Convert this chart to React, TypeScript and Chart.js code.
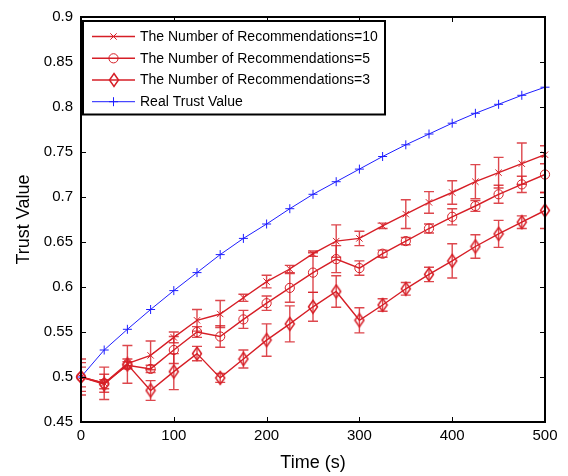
import React, { useEffect, useRef } from 'react';
import { Chart, registerables } from 'chart.js';

Chart.register(...registerables);

// ---------- data ----------
const TIMES = [0, 25, 50, 75, 100, 125, 150, 175, 200, 225, 250, 275, 300, 325, 350, 375, 400, 425, 450, 475, 500];

const REC10 = [0.5, 0.493, 0.515, 0.524, 0.544, 0.563, 0.570, 0.588, 0.606, 0.620, 0.637, 0.651, 0.654, 0.668, 0.681, 0.694, 0.705, 0.717, 0.727, 0.737, 0.747];
const ERR10 = [0.011, 0.018, 0.005, 0.016, 0.006, 0.012, 0.015, 0.004, 0.007, 0.004, 0.003, 0.018, 0.008, 0.003, 0.016, 0.012, 0.013, 0.019, 0.017, 0.023, 0.010];

const REC5 = [0.5, 0.493, 0.513, 0.509, 0.530, 0.550, 0.545, 0.564, 0.582, 0.599, 0.616, 0.631, 0.621, 0.637, 0.651, 0.665, 0.678, 0.690, 0.703, 0.714, 0.725];
const ERR5 = [0.016, 0.010, 0.004, 0.004, 0.015, 0.006, 0.012, 0.010, 0.008, 0.016, 0.022, 0.015, 0.008, 0.004, 0.004, 0.005, 0.009, 0.006, 0.010, 0.009, 0.020];

const REC3 = [0.5, 0.492, 0.514, 0.485, 0.506, 0.526, 0.499, 0.520, 0.541, 0.559, 0.578, 0.595, 0.563, 0.580, 0.598, 0.614, 0.629, 0.645, 0.659, 0.672, 0.685];
const ERR3 = [0.020, 0.005, 0.021, 0.011, 0.020, 0.008, 0.005, 0.010, 0.018, 0.020, 0.016, 0.0175, 0.014, 0.007, 0.007, 0.008, 0.019, 0.013, 0.015, 0.007, 0.020];

const REAL = [0.5, 0.530, 0.553, 0.575, 0.596, 0.616, 0.636, 0.654, 0.670, 0.687, 0.703, 0.717, 0.731, 0.745, 0.758, 0.770, 0.782, 0.793, 0.803, 0.813, 0.822];

const X_TICKS = [0, 100, 200, 300, 400, 500];
const Y_TICKS = [0.45, 0.5, 0.55, 0.6, 0.65, 0.7, 0.75, 0.8, 0.85, 0.9];

const LEGEND_LABELS = [
  'The Number of Recommendations=10',
  'The Number of Recommendations=5',
  'The Number of Recommendations=3',
  'Real Trust Value',
];

const X_TITLE = 'Time (s)';
const Y_TITLE = 'Trust Value';

// ---------- styles ----------
const RED = 'rgb(214,30,38)';
const RED_ERR = 'rgba(214,30,38,0.82)';
const BLUE = 'rgb(30,30,255)';
const FONT = 'Arial, "Liberation Sans", sans-serif';

function makeDiamond(color: string): HTMLCanvasElement {
  const c = document.createElement('canvas');
  c.width = 12;
  c.height = 16;
  const g = c.getContext('2d')!;
  g.strokeStyle = color;
  g.lineWidth = 1.5;
  g.beginPath();
  g.moveTo(6, 1.5);
  g.lineTo(10.5, 8);
  g.lineTo(6, 14.5);
  g.lineTo(1.5, 8);
  g.closePath();
  g.stroke();
  return c;
}

function drawMarker(ctx: CanvasRenderingContext2D, kind: string, x: number, y: number, color: string, diamond: HTMLCanvasElement) {
  ctx.save();
  ctx.strokeStyle = color;
  ctx.lineWidth = 1;
  ctx.beginPath();
  if (kind === 'x') {
    const r = 3.2;
    ctx.moveTo(x - r, y - r); ctx.lineTo(x + r, y + r);
    ctx.moveTo(x - r, y + r); ctx.lineTo(x + r, y - r);
    ctx.stroke();
  } else if (kind === 'o') {
    ctx.arc(x, y, 4.6, 0, Math.PI * 2);
    ctx.stroke();
  } else if (kind === 'd') {
    ctx.drawImage(diamond, Math.round(x - diamond.width / 2), Math.round(y - diamond.height / 2));
  } else {
    const r = 4.5;
    ctx.moveTo(x - r, y); ctx.lineTo(x + r, y);
    ctx.moveTo(x, y - r); ctx.lineTo(x, y + r);
    ctx.stroke();
  }
  ctx.restore();
}

export default function App() {
  const ref = useRef<HTMLCanvasElement | null>(null);

  useEffect(() => {
    const canvas = ref.current;
    if (!canvas) return;
    const diamond = makeDiamond(RED);
    const errors: (number[] | null)[] = [ERR10, ERR5, ERR3, null];
    const kinds = ['x', 'o', 'd', '+'];
    const colors = [RED, RED, RED, BLUE];

    const framePlugin = {
      id: 'framePlugin',
      afterDatasetsDraw(chart: any) {
        const ctx = chart.ctx as CanvasRenderingContext2D;
        const area = chart.chartArea;
        const ys = chart.scales.y;
        ctx.save();
        ctx.beginPath();
        ctx.rect(area.left, area.top, area.right - area.left, area.bottom - area.top);
        ctx.clip();
        ctx.strokeStyle = RED_ERR;
        ctx.lineWidth = 1.4;
        chart.data.datasets.forEach((ds: any, i: number) => {
          const errs = errors[i];
          if (!errs) return;
          const meta = chart.getDatasetMeta(i);
          meta.data.forEach((pt: any, j: number) => {
            const v = ds.data[j].y;
            const e = errs[j];
            const x = pt.x;
            const y1 = ys.getPixelForValue(v + e);
            const y2 = ys.getPixelForValue(v - e);
            const cw = 5;
            ctx.beginPath();
            ctx.moveTo(x, y1); ctx.lineTo(x, y2);
            ctx.moveTo(x - cw, y1); ctx.lineTo(x + cw, y1);
            ctx.moveTo(x - cw, y2); ctx.lineTo(x + cw, y2);
            ctx.stroke();
          });
        });
        ctx.restore();
      },
      afterDraw(chart: any) {
        const ctx = chart.ctx as CanvasRenderingContext2D;
        const area = chart.chartArea;
        const xs = chart.scales.x;
        const ys = chart.scales.y;
        ctx.save();
        ctx.strokeStyle = '#000';
        ctx.lineWidth = 1;
        const tl = 5;
        ctx.beginPath();
        X_TICKS.forEach((v) => {
          const px = Math.round(xs.getPixelForValue(v)) + 0.5;
          ctx.moveTo(px, area.bottom); ctx.lineTo(px, area.bottom - tl);
          ctx.moveTo(px, area.top); ctx.lineTo(px, area.top + tl);
        });
        Y_TICKS.forEach((v) => {
          const py = Math.round(ys.getPixelForValue(v)) + 0.5;
          ctx.moveTo(area.left, py); ctx.lineTo(area.left + tl, py);
          ctx.moveTo(area.right, py); ctx.lineTo(area.right - tl, py);
        });
        ctx.stroke();
        ctx.lineWidth = 2;
        ctx.strokeRect(area.left, area.top, area.right - area.left, area.bottom - area.top);

        // legend
        const lx = 83, ly = 21, lw = 302, lh = 93.5;
        ctx.fillStyle = '#fff';
        ctx.fillRect(lx, ly, lw, lh);
        ctx.lineWidth = 2;
        ctx.strokeStyle = '#000';
        ctx.strokeRect(lx, ly, lw, lh);
        const rows = [36.5, 58.3, 80, 101.7];
        ctx.font = `14px ${FONT}`;
        ctx.textBaseline = 'middle';
        ctx.textAlign = 'left';
        LEGEND_LABELS.forEach((label, i) => {
          const y = rows[i];
          ctx.strokeStyle = colors[i];
          ctx.lineWidth = i === 3 ? 1 : 1.4;
          ctx.beginPath();
          ctx.moveTo(92, y); ctx.lineTo(135, y);
          ctx.stroke();
          drawMarker(ctx, kinds[i], 113.5, y, colors[i], diamond);
          ctx.fillStyle = '#000';
          ctx.fillText(label, 140, y + 0.5);
        });
        ctx.restore();
      },
    };

    const toPts = (arr: number[]) => TIMES.map((t, i) => ({ x: t, y: arr[i] }));

    const chart = new Chart(canvas, {
      type: 'line',
      data: {
        datasets: [
          {
            label: LEGEND_LABELS[0],
            data: toPts(REC10),
            borderColor: RED,
            borderWidth: 1.4,
            pointStyle: 'crossRot',
            pointRadius: 4.5,
            pointBorderWidth: 1,
            pointBorderColor: RED,
            pointBackgroundColor: 'rgba(0,0,0,0)',
            clip: false as any,
          },
          {
            label: LEGEND_LABELS[1],
            data: toPts(REC5),
            borderColor: RED,
            borderWidth: 1.4,
            pointStyle: 'circle',
            pointRadius: 4.6,
            pointBorderWidth: 1,
            pointBorderColor: RED,
            pointBackgroundColor: 'rgba(0,0,0,0)',
            clip: false as any,
          },
          {
            label: LEGEND_LABELS[2],
            data: toPts(REC3),
            borderColor: RED,
            borderWidth: 1.4,
            pointStyle: diamond as any,
            pointRadius: 5,
            pointBorderColor: RED,
            pointBackgroundColor: 'rgba(0,0,0,0)',
            clip: false as any,
          },
          {
            label: LEGEND_LABELS[3],
            data: toPts(REAL),
            borderColor: BLUE,
            borderWidth: 1,
            pointStyle: 'cross',
            pointRadius: 4.5,
            pointBorderWidth: 1,
            pointBorderColor: BLUE,
            pointBackgroundColor: 'rgba(0,0,0,0)',
            clip: false as any,
          },
        ],
      },
      options: {
        animation: false,
        responsive: false,
        layout: { padding: { left: 0, right: 23, top: 15, bottom: 0 } },
        plugins: { legend: { display: false }, tooltip: { enabled: false } },
        scales: {
          x: {
            type: 'linear',
            min: 0,
            max: 500,
            grid: { display: false, drawTicks: false },
            border: { display: false },
            afterBuildTicks: (s: any) => { s.ticks = X_TICKS.map((v) => ({ value: v })); },
            afterFit: (s: any) => { s.height = 54; },
            ticks: {
              color: '#000',
              padding: 5,
              maxRotation: 0,
              font: { family: FONT, size: 15 },
              callback: (v: any) => String(v),
            },
            title: {
              display: true,
              text: X_TITLE,
              color: '#000',
              font: { family: FONT, size: 18 },
              padding: { top: 0, bottom: 2 },
            },
          },
          y: {
            type: 'linear',
            min: 0.45,
            max: 0.9,
            grid: { display: false, drawTicks: false },
            border: { display: false },
            afterBuildTicks: (s: any) => { s.ticks = Y_TICKS.map((v) => ({ value: v })); },
            afterFit: (s: any) => { s.width = 81; },
            ticks: {
              color: '#000',
              padding: 8,
              font: { family: FONT, size: 15 },
              callback: (v: any) => Number(Number(v).toFixed(2)).toString(),
            },
            title: {
              display: true,
              text: Y_TITLE,
              color: '#000',
              font: { family: FONT, size: 18 },
              padding: { top: 13, bottom: 0 },
            },
          },
        },
      },
      plugins: [framePlugin],
    });

    return () => chart.destroy();
  }, []);

  return (
    <div style={{ position: 'absolute', left: 0, top: 0, width: 568, height: 476, background: '#fff' }}>
      <canvas ref={ref} width={568} height={476} style={{ display: 'block' }} />
    </div>
  );
}
